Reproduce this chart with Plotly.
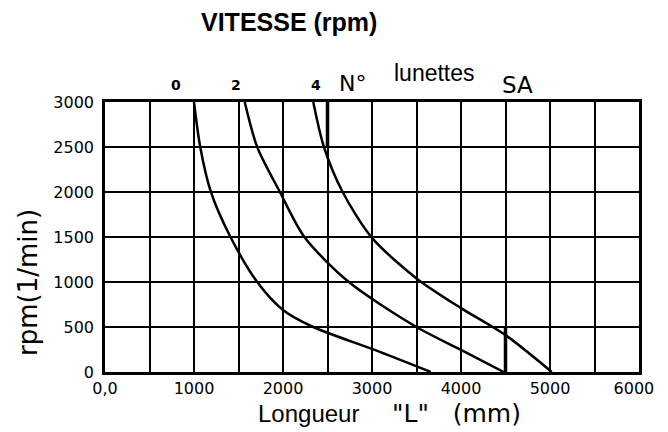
import plotly.graph_objects as go

# ── data ─────────────────────────────────────────────────────────────────────
# longueur L (mm) vs vitesse (rpm) for lunettes N° 0, 2, 4
curve0_len = [1000, 1070, 1190, 1410, 1710, 2000, 2340, 3030, 3660]
curve0_rpm = [3000, 2500, 2000, 1500, 1000, 690, 500, 245, 0]

curve2_len = [1570, 1710, 1965, 2240, 2740, 3500, 4000, 4480]
curve2_rpm = [3000, 2500, 2000, 1500, 1000, 500, 245, 0]

curve4_len = [2340, 2460, 2670, 3000, 3500, 4000, 4500, 5020]
curve4_rpm = [3000, 2500, 2000, 1490, 1040, 710, 410, 0]

# thickened limit segments on the grid
limit_len = [2500, 2500, None, 4500, 4500]
limit_rpm = [3000, 2500, None, 0, 500]

x_ticks = [0, 500, 1000, 1500, 2000, 2500, 3000, 3500, 4000, 4500, 5000, 5500, 6000]
x_labels = ["0,0", "", "1000", "", "2000", "", "3000", "", "4000", "", "5000", "",
            "6000\u00a0\u00a0"]
y_ticks = [0, 500, 1000, 1500, 2000, 2500, 3000]
y_labels = ["0", "500", "1000", "1500", "2000", "2500", "3000"]

lunette_labels = ["0", "2", "4"]
lunette_pos = [796, 1470, 2376]

TICK_FONT = dict(family="DejaVu Sans", size=16, color="black")


def label(text, x, y, size, family="DejaVu Sans", xref="paper", angle=0):
    fig.add_annotation(x=x, y=y, xref=xref, yref="paper", text=text, textangle=angle,
                       xanchor="center", yanchor="middle", showarrow=False,
                       font=dict(family=family, size=size, color="black"))


fig = go.Figure()
for xs, ys in [(curve0_len, curve0_rpm), (curve2_len, curve2_rpm), (curve4_len, curve4_rpm)]:
    fig.add_trace(go.Scatter(
        x=xs, y=ys, mode="lines",
        line=dict(color="black", width=2.5, shape="spline", smoothing=0.8),
        showlegend=False, hoverinfo="skip",
    ))
fig.add_trace(go.Scatter(
    x=limit_len, y=limit_rpm, mode="lines",
    line=dict(color="black", width=3.5),
    showlegend=False, hoverinfo="skip",
))

# top labels (lunettes numbers)
for lab, xv in zip(lunette_labels, lunette_pos):
    label(f"<b>{lab}</b>", xv, 1.063, 14, xref="x")
label("N°", 2785, 1.067, 22, xref="x")
label("lunettes", 3700, 1.107, 23, family="Liberation Sans", xref="x")
label("SA", 4630, 1.063, 23, xref="x")

# title and axis titles
label("<b>VITESSE (rpm)</b>", 0.344, 1.295, 25, family="Liberation Sans")
label("Longueur", 0.381, -0.152, 24, family="Liberation Sans")
label('"L"\u00a0\u00a0\u00a0(mm)', 0.659, -0.152, 25)
label("rpm(1/min)", -0.144, 0.33, 26, angle=-90)

grid = dict(showgrid=True, gridcolor="black", gridwidth=2, zeroline=False,
            showline=True, linecolor="black", linewidth=2.5, mirror=True,
            ticks="", tickfont=TICK_FONT)

# page body adds an 8px offset, margins compensate for it
fig.update_layout(
    width=668, height=432,
    margin=dict(l=97, r=28, t=94, b=68),
    paper_bgcolor="white", plot_bgcolor="white",
    xaxis=dict(range=[0, 6000], tickmode="array", tickvals=x_ticks, ticktext=x_labels, **grid),
    yaxis=dict(range=[0, 3000], tickmode="array", tickvals=y_ticks, ticktext=y_labels,
               ticklabelstandoff=5, **grid),
)

fig.write_html("out.html")
